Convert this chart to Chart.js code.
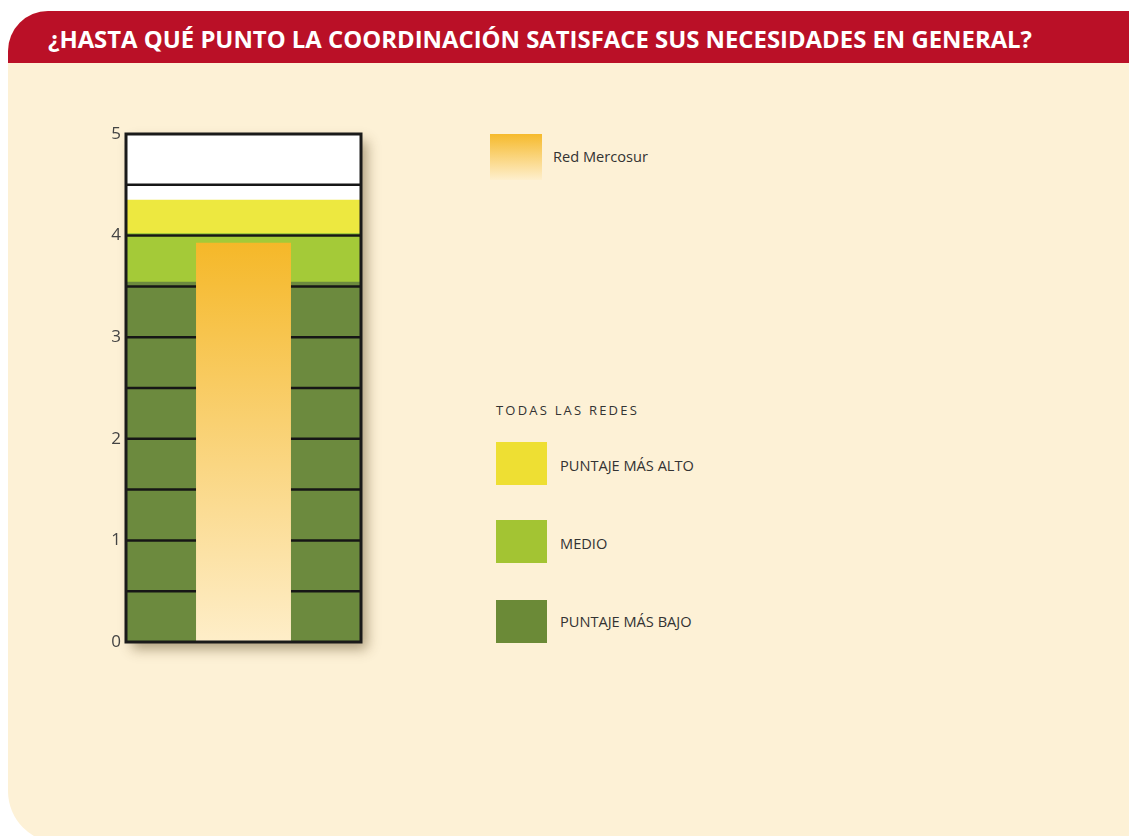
<!DOCTYPE html>
<html><head><meta charset="utf-8">
<script src="https://cdn.jsdelivr.net/npm/chart.js@4/dist/chart.umd.min.js"></script>
<style>
html,body{margin:0;padding:0;}
body{width:1129px;height:836px;overflow:hidden;background:#fff;position:relative;font-family:"Open Sans",sans-serif;}
#card{position:absolute;left:8px;top:11px;width:1180px;height:832px;background:#FDF1D6;border-radius:40px 32px 0 52px;overflow:hidden;}
#header{position:absolute;left:0;top:0;right:0;height:52px;background:#BA1027;}
#title{position:absolute;left:48px;top:24px;color:#fff;font-weight:700;font-size:24px;line-height:30px;white-space:nowrap;transform-origin:0 50%;}
#wrap{position:absolute;left:0;top:0;width:420px;height:700px;}
.sw{position:absolute;}
.lt{position:absolute;color:#333;font-size:14.6px;line-height:20px;white-space:nowrap;}
</style></head>
<body>
<div id="card"><div id="header"></div></div>
<div id="title">¿HASTA QUÉ PUNTO LA COORDINACIÓN SATISFACE SUS NECESIDADES EN GENERAL?</div>
<div id="wrap"><canvas id="c" width="420" height="700" style="width:420px;height:700px"></canvas></div>

<div class="sw" style="left:490px;top:134px;width:52px;height:46px;background:linear-gradient(#F6BA2C,#FEEFCD);"></div>
<div class="lt" style="left:553px;top:146px;">Red Mercosur</div>

<div class="lt" style="left:496px;top:400px;font-size:13px;letter-spacing:2.2px;">TODAS LAS REDES</div>
<div class="sw" style="left:496px;top:442px;width:51px;height:43px;background:#EEDF33;"></div>
<div class="lt" style="left:560px;top:455px;">PUNTAJE MÁS ALTO</div>
<div class="sw" style="left:496px;top:520px;width:51px;height:43px;background:#A3C433;"></div>
<div class="lt" style="left:560px;top:533px;">MEDIO</div>
<div class="sw" style="left:496px;top:600px;width:51px;height:43px;background:#6B8A37;"></div>
<div class="lt" style="left:560px;top:611px;">PUNTAJE MÁS BAJO</div>

<script>
// ---- data ----
const categories = ["Red Mercosur"];
const bandNames = ["PUNTAJE MÁS BAJO", "MEDIO", "PUNTAJE MÁS ALTO"];
const bandLow = [0, 3.55, 4.03];
const bandHigh = [3.55, 4.03, 4.35];
const mercosurValues = [3.93];
const yTicks = [0, 1, 2, 3, 4, 5];
const gridValues = [0.5, 1, 1.5, 2, 2.5, 3, 3.5, 4, 4.5];

const bandColors = ['#6C8A3E', '#A4CA38', '#EDE840'];

const framePlugin = {
  id: 'frame',
  beforeDatasetsDraw(chart) {
    const {ctx, chartArea: a} = chart;
    ctx.save();
    ctx.shadowColor = 'rgba(80,60,20,0.45)';
    ctx.shadowBlur = 12;
    ctx.shadowOffsetX = 6;
    ctx.shadowOffsetY = 7;
    ctx.fillStyle = '#ffffff';
    ctx.fillRect(a.left, a.top, a.width, a.height);
    ctx.restore();
  },
  beforeDatasetDraw(chart, args) {
    if (args.index !== 3) return;
    const {ctx, chartArea: a, scales} = chart;
    ctx.save();
    ctx.strokeStyle = '#161616';
    ctx.lineWidth = 2.5;
    gridValues.forEach(v => {
      const y = scales.y.getPixelForValue(v);
      ctx.beginPath();
      ctx.moveTo(a.left, y);
      ctx.lineTo(a.right, y);
      ctx.stroke();
    });
    ctx.restore();
  },
  afterDatasetsDraw(chart) {
    const {ctx, chartArea: a} = chart;
    ctx.save();
    ctx.strokeStyle = '#1a1a1a';
    ctx.lineWidth = 3;
    ctx.strokeRect(a.left, a.top, a.width, a.height);
    ctx.restore();
  }
};

const datasets = bandNames.map((n, i) => ({
  label: n,
  data: [[bandLow[i], bandHigh[i]]],
  backgroundColor: bandColors[i],
  borderWidth: 0,
  barPercentage: 1,
  categoryPercentage: 1,
  order: 3 - i
}));
datasets.push({
  label: categories[0],
  data: mercosurValues,
  backgroundColor: (c) => {
    const ch = c.chart, a = ch.chartArea;
    if (!a) return '#F6BD3A';
    const top = ch.scales.y.getPixelForValue(mercosurValues[0]);
    const g = ch.ctx.createLinearGradient(0, top, 0, a.bottom);
    g.addColorStop(0, '#F5B829');
    g.addColorStop(1, '#FEEEC9');
    return g;
  },
  borderWidth: 0,
  barPercentage: 0.404,
  categoryPercentage: 1,
  order: 0
});

new Chart(document.getElementById('c'), {
  type: 'bar',
  data: { labels: categories, datasets },
  options: {
    responsive: false,
    devicePixelRatio: 1,
    animation: false,
    layout: { padding: { top: 134, bottom: 58, left: 0, right: 59 } },
    plugins: { legend: { display: false }, tooltip: { enabled: false } },
    scales: {
      x: { stacked: true, display: false },
      y: {
        stacked: false,
        min: yTicks[0], max: yTicks[yTicks.length - 1],
        afterFit(s) { s.width = 126; },
        afterBuildTicks(s) { s.ticks = yTicks.map(v => ({value: v})); },
        grid: { display: false, drawTicks: false },
        border: { display: false },
        ticks: { padding: 5, color: '#444', font: { family: 'Open Sans', size: 17 } }
      }
    }
  },
  plugins: [framePlugin]
});

// fit title to its width
(document.fonts ? document.fonts.ready : Promise.resolve()).then(() => {
  const t = document.getElementById('title');
  const target = 984;
  const n = t.textContent.length;
  t.style.letterSpacing = '0px';
  const w0 = t.getBoundingClientRect().width;
  const ls = (target - w0) / n;
  if (ls >= 0) t.style.letterSpacing = ls + 'px';
  else t.style.transform = 'scaleX(' + (target / w0) + ')';
});
</script>
</body></html>
